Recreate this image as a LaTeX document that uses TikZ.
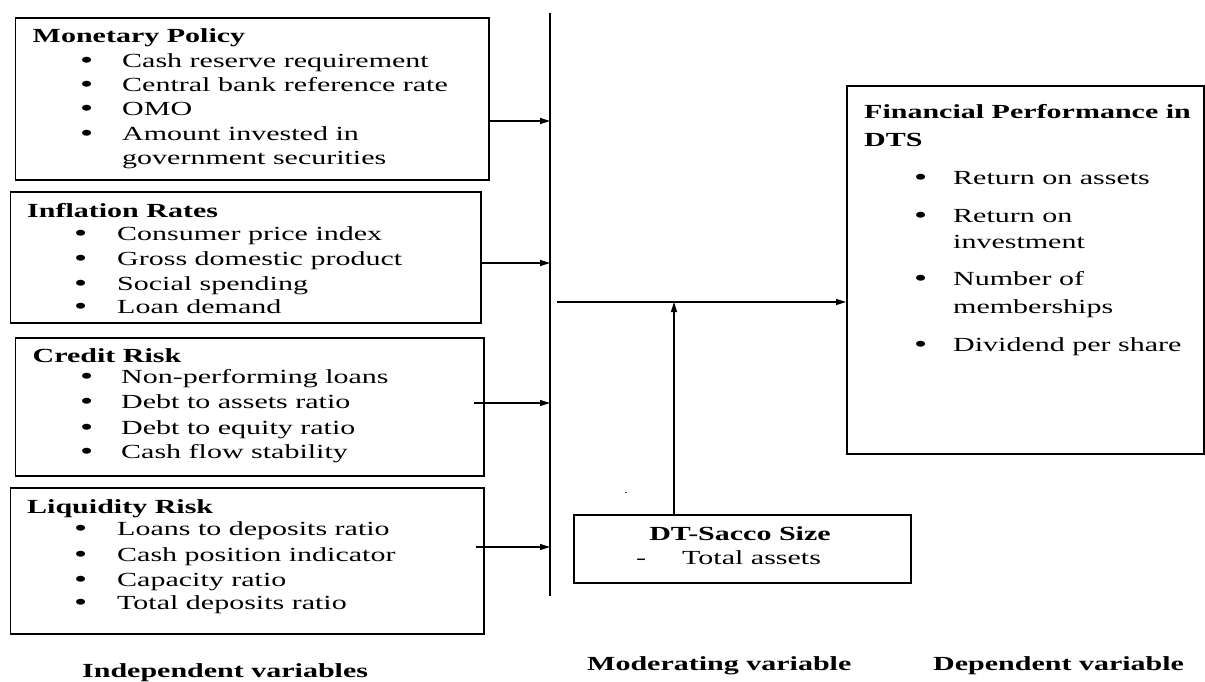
\documentclass[tikz,border=0pt]{standalone}
\usepackage{fontspec}
\setmainfont{Liberation Serif}[FakeStretch=1.5]
\usetikzlibrary{arrows.meta}
\newcommand\bitem[5]{%
  \node[bul] (#1-b) at (#2,#4) {•};
  \node[txt] (#1) at (#3,#4) {#5};}
\begin{document}
\begin{tikzpicture}[x=1pt,y=-1pt,
  box/.style={draw,line width=1.5pt,inner sep=0pt,anchor=north west},
  txt/.style={anchor=base west,inner sep=0pt,font=\fontsize{20}{24}\selectfont},
  bul/.style={anchor=base west,inner sep=0pt,yshift=-1.5pt,font=\fontsize{25}{28}\selectfont},
  ttl/.style={anchor=base west,inner sep=0pt,font=\fontsize{20}{24}\selectfont\bfseries},
  conn/.style={line width=1.2pt,-{Triangle[length=10pt,width=6pt]}}]
\useasboundingbox (0,0) rectangle (1205,681);

% boxes
\node[box,minimum width=473.5pt,minimum height=162pt] (mon) at (14.5,17) {};
\node[box,minimum width=470.4pt,minimum height=131pt] (inf) at (9.6,191) {};
\node[box,minimum width=468.5pt,minimum height=138pt] (cre) at (14.5,337) {};
\node[box,minimum width=473.4pt,minimum height=146pt] (liq) at (9.6,487) {};
\node[box,minimum width=357pt,minimum height=368pt] (fin) at (846,85) {};
\node[box,minimum width=337pt,minimum height=68pt] (dt) at (573,514) {};

% monetary policy
\node[ttl] (mon-t) at (32.5,42) {Monetary Policy};
\bitem{mon1}{80}{122}{67}{Cash reserve requirement}
\bitem{mon2}{80}{122}{91}{Central bank reference rate}
\bitem{mon3}{80}{122}{115}{OMO}
\bitem{mon4}{80}{122}{140}{Amount invested in}
\node[txt] (mon5) at (122,164) {government securities};

% inflation
\node[ttl] (inf-t) at (27,217) {Inflation Rates};
\bitem{inf1}{74}{117}{240}{Consumer price index}
\bitem{inf2}{74}{117}{265}{Gross domestic product}
\bitem{inf3}{74}{117}{290}{Social spending}
\bitem{inf4}{74}{117}{313}{Loan demand}

% credit risk
\node[ttl] (cre-t) at (32.5,362) {Credit Risk};
\bitem{cre1}{80}{121}{383}{Non-performing loans}
\bitem{cre2}{80}{121}{408}{Debt to assets ratio}
\bitem{cre3}{80}{121}{434}{Debt to equity ratio}
\bitem{cre4}{80}{121}{458}{Cash flow stability}

% liquidity risk
\node[ttl] (liq-t) at (27,513) {Liquidity Risk};
\bitem{liq1}{74}{117}{535}{Loans to deposits ratio}
\bitem{liq2}{74}{117}{561}{Cash position indicator}
\bitem{liq3}{74}{117}{586}{Capacity ratio}
\bitem{liq4}{74}{117}{609}{Total deposits ratio}

% financial performance
\node[ttl] (fin-t1) at (864,118) {Financial Performance in};
\node[ttl] (fin-t2) at (864,146) {DTS};
\bitem{fin1}{914}{953}{184}{Return on assets}
\bitem{fin2}{914}{953}{222}{Return on}
\node[txt] (fin2b) at (953,248) {investment};
\bitem{fin3}{914}{953}{285}{Number of}
\node[txt] (fin3b) at (953,313) {memberships};
\bitem{fin4}{914}{953}{351}{Dividend per share}

% DT-Sacco size
\node[ttl,anchor=base] (dt-t) at (740,540) {DT-Sacco Size};
\node[txt] (dt-d) at (636,564) {-};
\node[txt] (dt-1) at (682,564) {Total assets};
\node[txt,anchor=base,font=\fontsize{10}{12}\selectfont] (dot) at (626,493) {.};

% labels
\node[ttl] (lab-ind) at (82,677) {Independent variables};
\node[ttl] (lab-mod) at (587,670) {Moderating variable};
\node[ttl] (lab-dep) at (933,670) {Dependent variable};

% main vertical bar
\coordinate (bartop) at (550,13);
\coordinate (barbot) at (550,596);
\draw[line width=2.2pt] (bartop) -- (barbot);

% arrows into the bar
\coordinate (m1) at (488,121);
\coordinate (i1) at (480,263);
\coordinate (c1) at (474,403);
\coordinate (l1) at (476,547);
\draw[conn] (m1) -- (m1 -| bartop);
\draw[conn] (i1) -- (i1 -| bartop);
\draw[conn] (c1) -- (c1 -| bartop);
\draw[conn] (l1) -- (l1 -| bartop);

% to dependent variable
\coordinate (hstart) at (557,302);
\draw[conn] (hstart) -- (hstart -| fin.west);

% moderating arrow
\coordinate (vbot) at (674,514);
\draw[conn] (vbot) -- (vbot |- hstart);
\end{tikzpicture}
\end{document}
